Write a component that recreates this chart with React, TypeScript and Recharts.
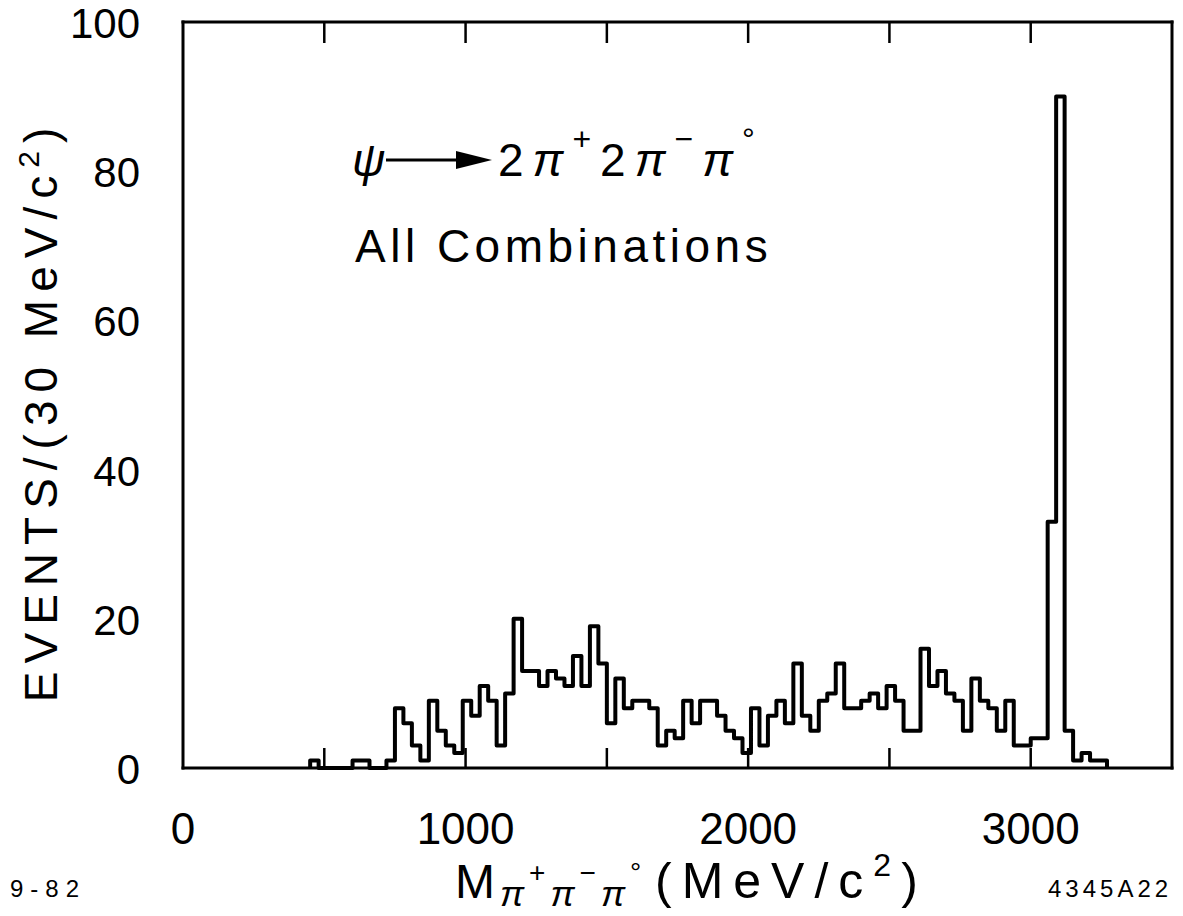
import { LineChart, Line, XAxis, YAxis } from "recharts"

// 30 MeV bins, first bin starts at 450 MeV
const binStart = 450
const binWidth = 30
const counts = [
  1, 0, 0, 0, 0, 1, 1, 0, 0, 1, 8, 6, 3, 1, 9, 5, 3, 2, 9, 7,
  11, 9, 3, 10, 20, 13, 13, 11, 13, 12, 11, 15, 11, 19, 14, 6, 12, 8, 9, 9,
  8, 3, 5, 4, 9, 6, 9, 9, 7, 5, 4, 2, 8, 3, 7, 9, 6, 14, 7, 5,
  9, 10, 14, 8, 8, 9, 10, 8, 11, 9, 5, 5, 16, 11, 13, 10, 9, 5, 12, 9,
  8, 5, 9, 3, 3, 4, 4, 33, 90, 5, 1, 2, 1, 1,
]

const xTicks = [0, 500, 1000, 1500, 2000, 2500, 3000, 3500]
const xLabels = [0, 1000, 2000, 3000]
const yTicks = [0, 20, 40, 60, 80, 100]
const yInnerTicks = [20, 40, 60, 80]

const histogram = [
  { m: binStart, n: 0 },
  ...counts.map((n, i) => ({ m: binStart + i * binWidth, n })),
  { m: binStart + counts.length * binWidth, n: 0 },
]

const W = 1183
const H = 916
const plotLeft = 183
const plotRight = 1172
const plotTop = 22
const plotBottom = 768
const xMax = 3500
const font = "'Liberation Sans', Arial, sans-serif"
const frame = { stroke: "#000", strokeWidth: 3, strokeLinecap: "square" as const }

// bottom ticks also draw the matching inward tick on the top edge of the frame
function BottomTick({ x, y, payload }: any) {
  const v = payload.value
  const inner = v > 0 && v < xMax
  return (
    <g>
      {inner && <line x1={x} x2={x} y1={y} y2={y - 20} stroke="#000" strokeWidth={2.5} />}
      {inner && <line x1={x} x2={x} y1={plotTop} y2={plotTop + 21} stroke="#000" strokeWidth={2.5} />}
      {xLabels.includes(v) && (
        <text x={x} y={y + 76} textAnchor="middle" fontSize={44} fontFamily={font} fill="#000">
          {v}
        </text>
      )}
    </g>
  )
}

function LeftTick({ x, y, payload }: any) {
  return (
    <text x={x - 43} y={y + 16} textAnchor="end" fontSize={42} fontFamily={font} fill="#000">
      {payload.value}
    </text>
  )
}

function RightTick({ x, y }: any) {
  return <line x1={x} x2={x - 29} y1={y} y2={y} stroke="#000" strokeWidth={2.5} />
}

export default function App() {
  return (
    <div style={{ position: "absolute", left: 0, top: 0, width: W, height: H, background: "#fff" }}>
      <LineChart width={W} height={H} data={histogram} margin={{ top: 0, right: 0, bottom: 0, left: 0 }}>
        <XAxis
          xAxisId="bottom"
          dataKey="m"
          type="number"
          domain={[0, xMax]}
          ticks={xTicks}
          interval={0}
          height={H - plotBottom}
          tickSize={0}
          tickMargin={0}
          tickLine={false}
          axisLine={frame}
          tick={<BottomTick />}
          allowDataOverflow
        />
        <XAxis
          xAxisId="top"
          dataKey="m"
          orientation="top"
          type="number"
          domain={[0, xMax]}
          height={plotTop}
          tick={false}
          tickLine={false}
          axisLine={frame}
          allowDataOverflow
        />
        <YAxis
          yAxisId="left"
          type="number"
          domain={[0, 100]}
          ticks={yTicks}
          interval={0}
          width={plotLeft}
          tickSize={0}
          tickMargin={0}
          tickLine={false}
          axisLine={frame}
          tick={<LeftTick />}
        />
        <YAxis
          yAxisId="right"
          orientation="right"
          type="number"
          domain={[0, 100]}
          ticks={yInnerTicks}
          interval={0}
          width={W - plotRight}
          tickSize={0}
          tickMargin={0}
          tickLine={false}
          axisLine={frame}
          tick={<RightTick />}
        />
        <Line
          xAxisId="bottom"
          yAxisId="left"
          dataKey="n"
          type="stepAfter"
          stroke="#000"
          strokeWidth={4}
          strokeLinejoin="round"
          dot={false}
          activeDot={false}
          isAnimationActive={false}
        />
      </LineChart>

      <svg width={W} height={H} style={{ position: "absolute", left: 0, top: 0, pointerEvents: "none" }} fontFamily={font}>
        <text x={352} y={176} fontSize={46} fontStyle="italic">ψ</text>
        <line x1={386} x2={462} y1={160} y2={160} stroke="#000" strokeWidth={3} />
        <polygon points="456,151 492,160 456,169" fill="#000" />
        <text x={498} y={176} fontSize={46} letterSpacing={9}>
          2<tspan fontStyle="italic">π</tspan>
          <tspan fontSize={32} dy={-26}>+</tspan>
          <tspan dy={26}>2</tspan>
          <tspan fontStyle="italic">π</tspan>
          <tspan fontSize={32} dy={-26}>−</tspan>
          <tspan dy={26} fontStyle="italic">π</tspan>
          <tspan fontSize={32} dy={-26}>°</tspan>
        </text>
        <text x={355} y={262} fontSize={46} letterSpacing={4.5}>All Combinations</text>

        <text transform="translate(57,411) rotate(-90)" textAnchor="middle" fontSize={46} letterSpacing={8}>
          EVENTS/(30 MeV/c<tspan dy={-18} fontSize={30}>2</tspan>
          <tspan dy={18}>)</tspan>
        </text>

        <text x={455} y={898} fontSize={48} letterSpacing={5}>
          M<tspan fontSize={36} dy={8} fontStyle="italic">π</tspan>
          <tspan fontSize={28} dy={-24}>+</tspan>
          <tspan fontSize={36} dy={24} fontStyle="italic">π</tspan>
          <tspan fontSize={28} dy={-24}>−</tspan>
          <tspan fontSize={36} dy={24} fontStyle="italic">π</tspan>
          <tspan fontSize={28} dy={-24}>°</tspan>
        </text>
        <text x={655} y={898} fontSize={50} letterSpacing={10}>
          (MeV/c<tspan dy={-22} fontSize={32}>2</tspan>
          <tspan dy={22}>)</tspan>
        </text>

        <text x={10} y={897} fontSize={24} letterSpacing={7}>9-82</text>
        <text x={1048} y={897} fontSize={24} letterSpacing={4}>4345A22</text>
      </svg>
    </div>
  )
}
